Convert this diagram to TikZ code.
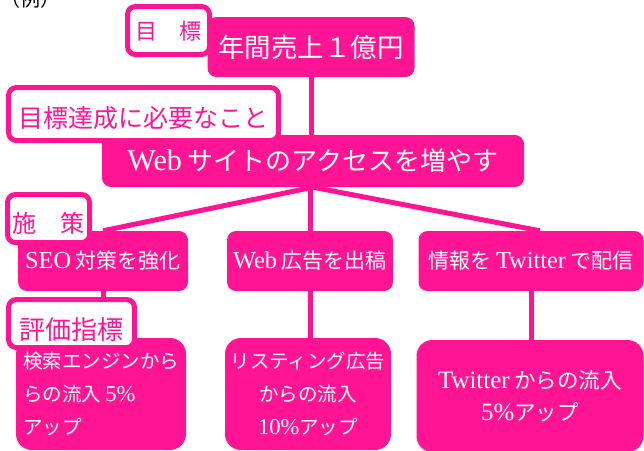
\documentclass[tikz,border=0pt]{standalone}
\usepackage{fontspec}
\newfontfamily\jp{Noto Sans CJK JP}
\newfontfamily\lat[Scale=1.16]{Liberation Serif}
\usetikzlibrary{backgrounds}
\definecolor{mypink}{RGB}{255,20,147}
\begin{document}
\begin{tikzpicture}[x=1pt,y=-1pt,
  pinkbox/.style={fill=mypink, text=white, rounded corners=9pt, inner sep=0pt, align=center},
  kpibox/.style={pinkbox, rounded corners=16pt, font=\fontsize{19.5pt}{33pt}\selectfont\jp},
  midbox/.style={pinkbox, minimum height=60pt, font=\fontsize{21pt}{25pt}\selectfont\jp},
  labbox/.style={draw=mypink, line width=5pt, fill=white, rounded corners=8pt, inner sep=0pt},
  labtext/.style={text=mypink, inner sep=0pt},
  conn/.style={draw=mypink, line width=5pt}]
\useasboundingbox (0,0) rectangle (644,450);

% example mark (cut off at top, as in the reference)
\node[anchor=base west, inner sep=0pt, font=\fontsize{20pt}{24pt}\selectfont\jp] (ex) at (0,6) {（例）};

% main boxes
\node[pinkbox, minimum width=207pt, minimum height=60pt, font=\fontsize{26.5pt}{30pt}\selectfont\jp] (goal) at (311,47) {年間売上１億円};
\node[pinkbox, minimum width=422pt, minimum height=52pt, font=\fontsize{26pt}{30pt}\selectfont\jp] (web) at (313,161) {{\lat Web} サイトのアクセスを増やす};

\node[midbox, minimum width=170pt] (seo) at (103,261) {{\lat SEO} 対策を強化};
\node[midbox, minimum width=166pt] (ad) at (310,261) {{\lat Web} 広告を出稿};
\node[midbox, minimum width=225pt] (tw) at (531,261) {情報を {\lat Twitter} で配信};

\node[kpibox, minimum width=170pt, minimum height=112pt, align=left] (k1) at (101,394) {検索エンジンから\\らの流入 {\lat 5\%}\\アップ};
\node[kpibox, minimum width=166pt, minimum height=112pt] (k2) at (308,394) {リスティング広告\\からの流入\\{\lat 10\%}アップ};
\node[kpibox, minimum width=227pt, minimum height=112pt, font=\fontsize{21.5pt}{32pt}\selectfont\jp] (k3) at (530,396) {{\lat Twitter} からの流入\\{\lat 5\%}アップ};

% connectors
\begin{pgfonlayer}{background}
\draw[conn] (goal.south) -- (goal.south |- web.north);
\draw[conn] (web.south) -- (seo.north);
\draw[conn] (ad.north |- web.south) -- (ad.north);
\draw[conn] (web.south) -- ([xshift=9pt]tw.north);
\draw[conn] (seo.south) -- (seo.south |- k1.north);
\draw[conn] (ad.south) -- (ad.south |- k2.north);
\draw[conn] (tw.south) -- (tw.south |- k3.north);
\end{pgfonlayer}

% labels
\node[labbox, minimum width=82pt, minimum height=48pt] (l1) at (168.5,30.5) {};
\node[labtext, font=\fontsize{22pt}{26pt}\selectfont\jp] (l1t) at ([yshift=-1pt]l1.center) {目　標};
\node[labbox, minimum width=270pt, minimum height=53pt] (l2) at (143.5,114) {};
\node[labtext, font=\fontsize{25pt}{29pt}\selectfont\jp] (l2t) at ([yshift=-4pt]l2.center) {目標達成に必要なこと};
\node[labbox, minimum width=82pt, minimum height=48pt] (l3) at (48.5,218.5) {};
\node[labtext, font=\fontsize{24pt}{28pt}\selectfont\jp] (l3t) at ([yshift=-5pt]l3.center) {施　策};
\node[labbox, minimum width=126pt, minimum height=48pt] (l4) at (71.5,323.5) {};
\node[labtext, font=\fontsize{26pt}{30pt}\selectfont\jp] (l4t) at ([yshift=-6pt]l4.center) {評価指標};
\end{tikzpicture}
\end{document}
